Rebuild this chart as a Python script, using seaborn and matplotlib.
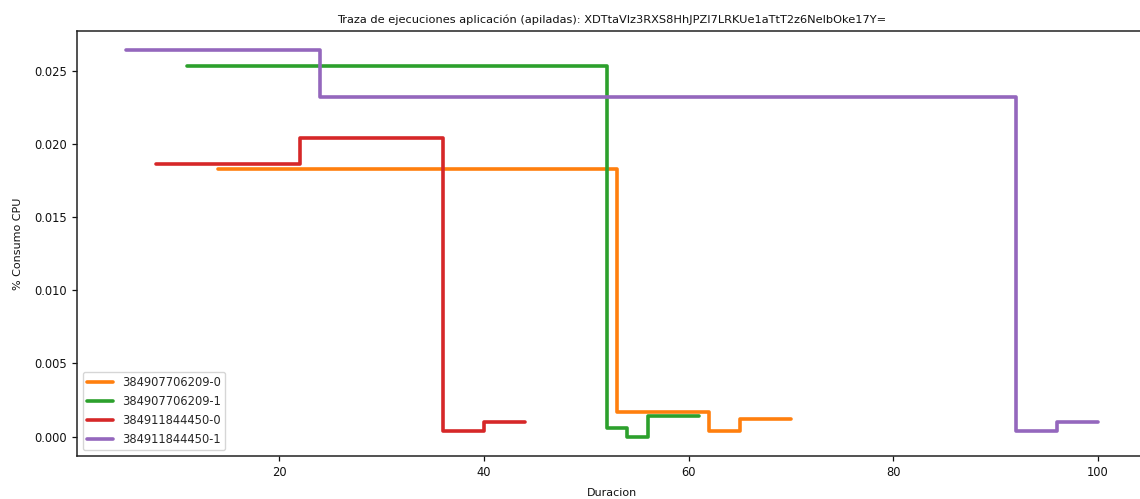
import numpy as np
import pandas as pd
import seaborn as sns
import matplotlib
matplotlib.use("Agg")
import matplotlib.pyplot as plt

# Execution traces: time (Duracion) and CPU share per application run
series_names = ["384907706209-0", "384907706209-1", "384911844450-0", "384911844450-1"]
series_colors = ["#ff7f0e", "#2ca02c", "#d62728", "#9467bd"]

orange_x = [14, 53, 62, 65, 70]
orange_y = [0.0183, 0.0017, 0.0004, 0.0012, 0.0012]

green_x = [11, 52, 54, 56, 61]
green_y = [0.0253, 0.0006, 0.0000, 0.0014, 0.0014]

red_x = [8, 22, 36, 40, 44]
red_y = [0.0186, 0.0204, 0.0004, 0.0010, 0.0010]

purple_x = [5, 24, 92, 96, 100]
purple_y = [0.0264, 0.0232, 0.0004, 0.0010, 0.0010]

title = "Traza de ejecuciones aplicación (apiladas): XDTtaVlz3RXS8HhJPZI7LRKUe1aTtT2z6NelbOke17Y="

frames = []
for name, xs, ys in zip(series_names,
                        [orange_x, green_x, red_x, purple_x],
                        [orange_y, green_y, red_y, purple_y]):
    frames.append(pd.DataFrame({"Duracion": xs, "cpu": ys, "ejecucion": name}))
df = pd.concat(frames, ignore_index=True)

sns.set_style("ticks")
plt.rcParams["font.family"] = ["DejaVu Sans"]

fig = plt.figure(figsize=(11.4, 4.99), dpi=100)
ax = fig.add_axes([0.0675, 0.0862, 0.9383, 0.8517])

sns.lineplot(data=df, x="Duracion", y="cpu", hue="ejecucion",
             hue_order=series_names, palette=series_colors,
             estimator=None, sort=False, drawstyle="steps-post",
             linewidth=2.6, ax=ax)

ax.set_title(title, fontsize=8.2, color="#111111")
ax.set_xlabel("Duracion", fontsize=8, labelpad=6.5, color="#111111")
ax.set_ylabel("% Consumo CPU", fontsize=8, labelpad=8.5, color="#111111")
ax.tick_params(labelsize=8.3, width=0.9, length=3.5, colors="#111111")
for sp in ax.spines.values():
    sp.set_linewidth(1.1)
    sp.set_color("#222222")
    sp.set_visible(True)

leg = ax.legend(loc="lower left", fontsize=8.3, handlelength=2.2)
for ln in leg.get_lines():
    ln.set_linewidth(2.6)

fig.savefig("out.png", dpi=100)
